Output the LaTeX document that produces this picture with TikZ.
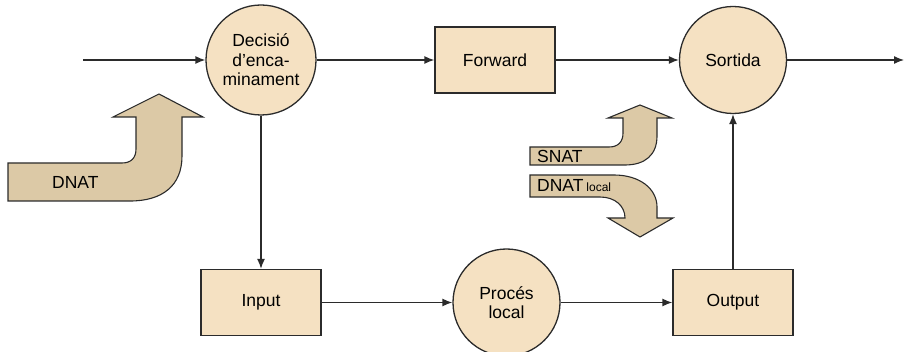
\documentclass[tikz,border=0pt]{standalone}
\usepackage{fontspec}
\setmainfont{Liberation Sans}
\usetikzlibrary{arrows.meta}

\definecolor{nodefill}{HTML}{F5E1C2}
\definecolor{natfill}{HTML}{DCC9A6}
\definecolor{edge}{HTML}{2B2B2B}

\tikzset{
  basenode/.style={draw=edge, line width=1.3pt, fill=nodefill, inner sep=0pt,
    align=center, font=\fontsize{17.5}{19.5}\selectfont},
  roundnode/.style={basenode, circle, minimum size=107pt},
  boxnode/.style={basenode, rectangle, minimum width=120pt, minimum height=66pt},
  flow/.style={draw=edge, line width=1.3pt, -{Latex[length=10pt,width=8pt]}},
  natarrow/.style={draw=edge, line width=1.1pt, fill=natfill, line join=miter},
  natlabel/.style={anchor=west, inner sep=0pt, font=\fontsize{17.5}{19.5}\selectfont},
}

\begin{document}
\begin{tikzpicture}[x=1pt, y=-1pt]
  \useasboundingbox (0,0) rectangle (904,352);

  % NAT arrows
  \path[natarrow] (8,163) -- (122,163) .. controls (131,163) and (136,158) .. (136,149)
    -- (136,117) -- (113,117) -- (159,94) -- (203,117) -- (182,117) -- (182,156)
    .. controls (182,186) and (162,201) .. (130,201) -- (8,201) -- cycle;
  \node[natlabel] (dnatlbl) at (52,182) {DNAT};

  \path[natarrow] (530,147) -- (609,147) .. controls (618,147) and (623,142) .. (623,133)
    -- (623,118) -- (608,118) -- (640,105) -- (672,118) -- (657,118) -- (657,136)
    .. controls (657,155) and (645,165) .. (625,165) -- (530,165) -- cycle;
  \node[natlabel] (snatlbl) at (537,156.5) {SNAT};

  \path[natarrow] (530,175) -- (614,175) .. controls (640,175) and (657,189) .. (657,207)
    -- (657,218) -- (673,218) -- (640,237) -- (608,218) -- (625,218)
    .. controls (625,206) and (615,197) .. (600,197) -- (530,197) -- cycle;
  \node[natlabel] (dnatlocallbl) at (537,186) {DNAT\,{\fontsize{12}{14}\selectfont local}};

  % Main nodes
  \node[roundnode, minimum size=110pt] (decisio) at (261,60) {Decisió\\d’enca-\\minament};
  \node[boxnode] (forward) at (495,60) {Forward};
  \node[roundnode] (sortida) at (733,60) {Sortida};
  \node[boxnode] (input) at (261,302.5) {Input};
  \node[roundnode] (proces) at (506.5,302.5) {Procés\\local};
  \node[boxnode] (output) at (733,302.5) {Output};

  \coordinate (entrada) at (83,60);
  \coordinate (sortidaext) at (904,60);

  % Connectors
  \draw[flow] (entrada) -- (decisio);
  \draw[flow] (decisio) -- (forward);
  \draw[flow] (forward) -- (sortida);
  \draw[flow] (sortida) -- (sortidaext);
  \draw[flow] (decisio) -- (input);
  \draw[flow] (input) -- (proces);
  \draw[flow] (proces) -- (output);
  \draw[flow] (output) -- (sortida);
\end{tikzpicture}
\end{document}
